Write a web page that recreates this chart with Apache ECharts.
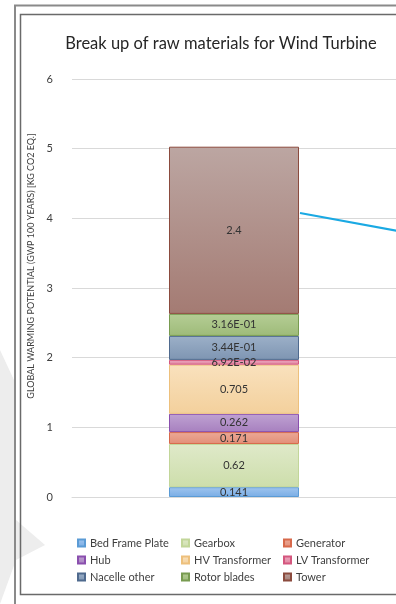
<!DOCTYPE html>
<html>
<head>
<meta charset="utf-8">
<script src="https://cdn.jsdelivr.net/npm/echarts@6/dist/echarts.min.js"></script>
<style>
  html, body { margin: 0; padding: 0; background: #ffffff; }
  #chart { width: 396px; height: 604px; }
</style>
</head>
<body>
<div id="chart"></div>
<script>
// Stacked GWP contributions of each wind turbine component
const categories = ['Wind Turbine'];
const components = ['Bed Frame Plate', 'Gearbox', 'Generator', 'Hub', 'HV Transformer',
                    'LV Transformer', 'Nacelle other', 'Rotor blades', 'Tower'];
const values = [0.141, 0.62, 0.171, 0.262, 0.705, 0.0692, 0.344, 0.316, 2.4];
// 'g' = general number, 'e' = scientific (0.00E+00)
const labelFormats = ['g', 'g', 'g', 'g', 'g', 'e', 'e', 'e', 'g'];
const yTicks = [0, 1, 2, 3, 4, 5, 6];

const palette = {
  'Bed Frame Plate': ['#a0c5ee', '#78ace5', '#5b9bd5'],
  'Gearbox':         ['#dfe9c9', '#cddeab', '#c2d699'],
  'Generator':       ['#eba996', '#e38e78', '#d7694b'],
  'Hub':             ['#bfa2d2', '#a780bf', '#8a4fae'],
  'HV Transformer':  ['#f9e1bd', '#f3d09c', '#edc07c'],
  'LV Transformer':  ['#eba7c0', '#e1849e', '#d4577e'],
  'Nacelle other':   ['#9cb0c8', '#7e95b2', '#4f6a8e'],
  'Rotor blades':    ['#b5cd95', '#9ebb79', '#789b50'],
  'Tower':           ['#bca6a2', '#a47b73', '#8b4b3e']
};

function fmt(v, kind) {
  if (kind === 'e') {
    const [m, e] = v.toExponential(2).split('e');
    const n = Math.abs(parseInt(e, 10));
    return m + 'E' + (e[0] === '-' ? '-' : '+') + (n < 10 ? '0' + n : '' + n);
  }
  return String(v);
}

const FONT = 'Lato';

const series = components.map((name, i) => ({
  name: name,
  type: 'bar',
  stack: 'total',
  barWidth: 130,
  data: [values[i]],
  itemStyle: {
    color: {
      type: 'linear', x: 0, y: 0, x2: 0, y2: 1,
      colorStops: [
        { offset: 0, color: palette[name][0] },
        { offset: 1, color: palette[name][1] }
      ]
    },
    borderColor: palette[name][2],
    borderWidth: 1
  },
  label: {
    show: true,
    position: 'inside',
    color: '#333333',
    fontFamily: FONT,
    fontSize: 11,
    formatter: p => fmt(p.value, labelFormats[i])
  },
  emphasis: { disabled: true }
}));

function legendCol(names, left) {
  return {
    orient: 'vertical',
    left: left,
    top: 537,
    padding: 0,
    itemWidth: 7,
    itemHeight: 7,
    itemGap: 5,
    icon: 'rect',
    selectedMode: false,
    data: names,
    textStyle: { color: '#404040', fontFamily: FONT, fontSize: 11, lineHeight: 12 }
  };
}

const chart = echarts.init(document.getElementById('chart'), null, { renderer: 'canvas' });
chart.setOption({
  animation: false,
  backgroundColor: '#ffffff',
  title: {
    text: 'Break up of raw materials for Wind Turbine',
    left: 216,
    top: 30,
    textAlign: 'center',
    textStyle: { color: '#262626', fontFamily: FONT, fontSize: 16.5, fontWeight: 'normal' }
  },
  legend: [
    legendCol(['Bed Frame Plate', 'Hub', 'Nacelle other'], 77),
    legendCol(['Gearbox', 'HV Transformer', 'Rotor blades'], 181),
    legendCol(['Generator', 'LV Transformer', 'Tower'], 283)
  ],
  grid: { left: 72, right: -2, top: 79, bottom: 107, containLabel: false },
  xAxis: {
    type: 'category',
    data: categories,
    axisLine: { show: true, lineStyle: { color: '#d9d9d9', width: 1 } },
    axisTick: { show: false },
    axisLabel: { show: false }
  },
  yAxis: {
    type: 'value',
    min: yTicks[0],
    max: yTicks[yTicks.length - 1],
    interval: 1,
    axisLine: { show: false },
    axisTick: { show: false },
    axisLabel: { color: '#404040', fontFamily: FONT, fontSize: 11, margin: 19 },
    splitLine: { lineStyle: { color: '#d9d9d9', width: 1 } }
  },
  series: series,
  graphic: [
    // faint backdrop shape at lower left
    {
      type: 'polygon', z: -10, silent: true,
      shape: { points: [[0, 350], [14, 380], [16, 520], [45, 545], [16, 560], [0, 604]] },
      style: { fill: '#ededed' }
    },
    // double frame around the chart
    {
      type: 'rect', silent: true, z: 100,
      shape: { x: 15, y: 5.5, width: 420, height: 640 },
      style: { fill: 'none', stroke: '#8a8a8a', lineWidth: 2 }
    },
    {
      type: 'rect', silent: true, z: 100,
      shape: { x: 20.5, y: 14.5, width: 420, height: 580 },
      style: { fill: 'none', stroke: '#6a6a6a', lineWidth: 1.5 }
    },
    // vertical axis title
    {
      type: 'text', silent: true,
      x: 31.5, y: 266, rotation: Math.PI / 2,
      style: {
        text: 'GLOBAL WARMING POTENTIAL (GWP 100 YEARS) [KG CO2 EQ.]',
        fill: '#404040', fontFamily: FONT, fontSize: 9,
        align: 'center', verticalAlign: 'middle'
      }
    },
    // connector line leaving the bar
    {
      type: 'line', silent: true, z: 50,
      shape: { x1: 300, y1: 213, x2: 398, y2: 231 },
      style: { stroke: '#1aa9e3', lineWidth: 2 }
    }
  ]
});
</script>
</body>
</html>
